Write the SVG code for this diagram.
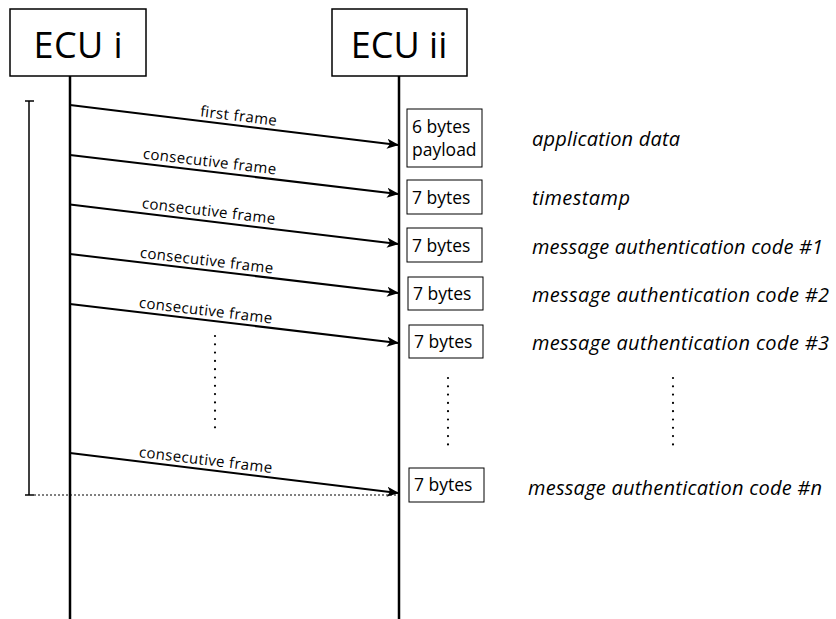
<svg xmlns="http://www.w3.org/2000/svg" width="836" height="619" viewBox="0 0 836 619">
<defs>
<marker id="ah" markerWidth="12" markerHeight="10" refX="11" refY="5" orient="auto" markerUnits="userSpaceOnUse">
<path d="M0,0 L12,5 L0,10 L3,5 Z" fill="#000"/>
</marker>
<style>
.node rect{fill:#fff;stroke:#000;stroke-width:1.5}
.ecu{font-family:"Open Sans","Lato",sans-serif;font-size:36px;fill:#000;text-anchor:middle}
.life{stroke:#000;stroke-width:2.5;fill:none}
.msg{stroke:#000;stroke-width:2;fill:none;marker-end:url(#ah)}
.lbl{font-family:"Open Sans","Lato",sans-serif;font-size:15px;fill:#000;text-anchor:middle}
.box rect{fill:#fff;stroke:#000;stroke-width:1}
.bt{font-family:"Open Sans","Lato",sans-serif;font-size:17.5px;fill:#000}
.desc{font-family:"Open Sans","Lato",sans-serif;font-size:20px;font-style:italic;fill:#000}
.dots{stroke:#000;stroke-width:2.2;stroke-dasharray:0 8.3;stroke-linecap:round;fill:none}
</style>
</defs>
<g id="ecu-i" class="node">
<rect x="10" y="9" width="136" height="67"/>
<text class="ecu" x="78" y="58" textLength="89">ECU i</text>
</g>
<g id="ecu-ii" class="node">
<rect x="332" y="9" width="135" height="67"/>
<text class="ecu" x="399" y="58">ECU ii</text>
</g>
<g id="connectors">
<line class="life" x1="70" y1="76" x2="70" y2="619"/>
<line class="life" x1="399" y1="76" x2="399" y2="619"/>
<line stroke="#000" stroke-width="1.5" x1="29" y1="101" x2="29" y2="495"/>
<line stroke="#000" stroke-width="1.5" x1="25" y1="101" x2="34" y2="101"/>
<line stroke="#000" stroke-width="1.5" x1="25" y1="495" x2="34" y2="495"/>
<line stroke="#000" stroke-width="1" stroke-dasharray="2,2" x1="34" y1="495" x2="398" y2="495"/>
<line class="msg" x1="70" y1="105" x2="398" y2="145"/>
<line class="msg" x1="70" y1="155" x2="398" y2="194"/>
<line class="msg" x1="70" y1="204.5" x2="398" y2="244"/>
<line class="msg" x1="70" y1="254" x2="398" y2="293"/>
<line class="msg" x1="70" y1="304" x2="398" y2="343"/>
<line class="msg" x1="70" y1="453" x2="398" y2="493"/>
<text class="lbl" transform="translate(238,121) rotate(6.95)" textLength="77">first frame</text>
<text class="lbl" transform="translate(209,166.5) rotate(6.8)" textLength="134">consecutive frame</text>
<text class="lbl" transform="translate(208,216) rotate(6.8)" textLength="134">consecutive frame</text>
<text class="lbl" transform="translate(206,265.5) rotate(6.8)" textLength="134">consecutive frame</text>
<text class="lbl" transform="translate(205,315.5) rotate(6.8)" textLength="134">consecutive frame</text>
<text class="lbl" transform="translate(205,465) rotate(6.95)" textLength="134">consecutive frame</text>
<line class="dots" x1="215" y1="336" x2="215" y2="430"/>
<line class="dots" x1="448" y1="378" x2="448" y2="448"/>
<line class="dots" x1="673" y1="378" x2="673" y2="448"/>
</g>
<g id="box-app" class="box">
<rect x="407" y="109" width="75" height="58"/>
<text class="bt" x="412" y="133">6 bytes</text>
<text class="bt" x="412" y="156">payload</text>
<text class="desc" x="532" y="146" textLength="148">application data</text>
</g>
<g id="box-ts" class="box">
<rect x="407" y="180" width="75" height="34"/>
<text class="bt" x="412" y="204">7 bytes</text>
<text class="desc" x="532" y="205" textLength="98">timestamp</text>
</g>
<g id="box-mac1" class="box">
<rect x="407" y="228" width="75" height="34"/>
<text class="bt" x="412" y="252">7 bytes</text>
<text class="desc" x="532" y="254" textLength="291">message authentication code #1</text>
</g>
<g id="box-mac2" class="box">
<rect x="408" y="277" width="75" height="33"/>
<text class="bt" x="413" y="300">7 bytes</text>
<text class="desc" x="532" y="302" textLength="297">message authentication code #2</text>
</g>
<g id="box-mac3" class="box">
<rect x="409" y="325" width="74" height="33"/>
<text class="bt" x="414" y="348">7 bytes</text>
<text class="desc" x="532" y="350" textLength="297">message authentication code #3</text>
</g>
<g id="box-macn" class="box">
<rect x="409" y="468" width="75" height="34"/>
<text class="bt" x="414" y="491">7 bytes</text>
<text class="desc" x="528" y="495" textLength="294">message authentication code #n</text>
</g>
</svg>
